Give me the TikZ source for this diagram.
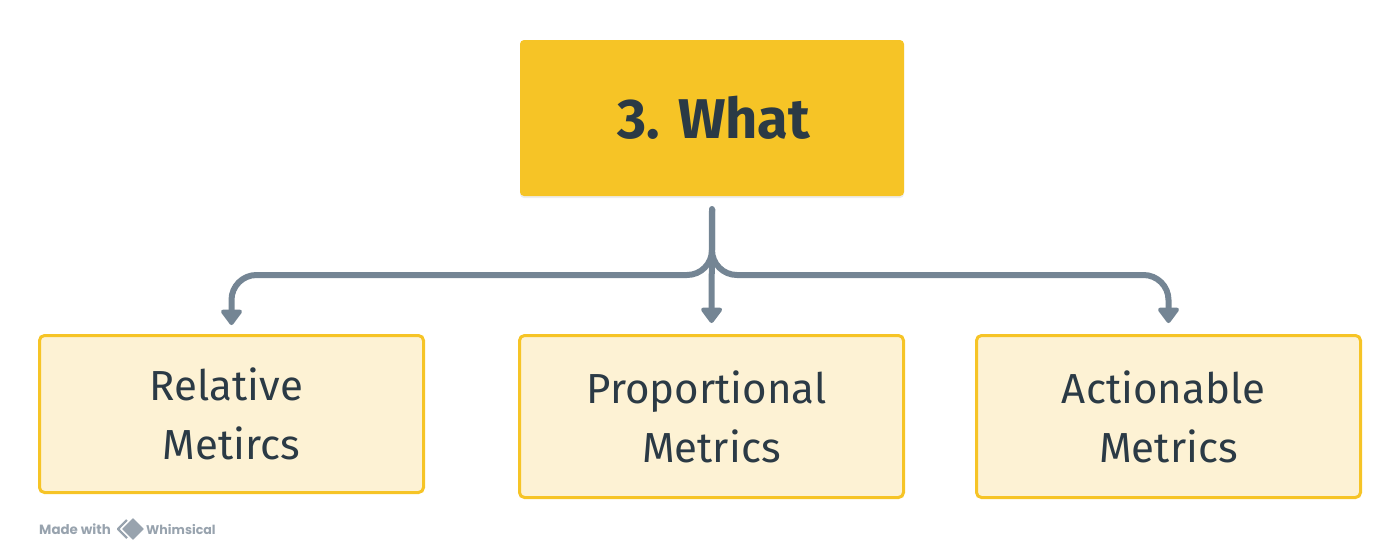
\documentclass[tikz,border=0pt]{standalone}
\usepackage{fontspec}
\setmainfont{Fira Sans}
\newfontfamily\logofont{Poppins}
\usetikzlibrary{arrows.meta,shadows}
\definecolor{whatyellow}{HTML}{F6C426}
\definecolor{palefill}{HTML}{FDF2D4}
\definecolor{inkblue}{HTML}{2B3A45}
\definecolor{linkgrey}{HTML}{748594}
\definecolor{logogrey}{HTML}{98A3AE}

\begin{document}
\begin{tikzpicture}[x=1pt,y=-1pt]
\tikzstyle{top}=[rectangle, rounded corners=4pt, minimum width=384pt, minimum height=156pt, fill=whatyellow, text=inkblue, font=\fontsize{56}{60}\selectfont\bfseries, drop shadow={shadow xshift=0pt, shadow yshift=-2pt, opacity=0.07, fill=black}]
\tikzstyle{metric}=[rectangle, rounded corners=5pt, minimum width=384pt, line width=3pt, draw=whatyellow, fill=palefill, text=inkblue, align=center, font=\fontsize{42}{59}\selectfont]
\tikzstyle{connect}=[-{Triangle[width=24pt,length=17pt,round]}, line width=6pt, draw=linkgrey, rounded corners=25pt]
\tikzstyle{credit}=[inner sep=0pt, text=logogrey, font=\fontsize{13.4}{16}\selectfont\logofont\bfseries]
\useasboundingbox (0,0) rectangle (1400,558);

	\node[top] (what) at (712,118) {\kern4pt 3. What};
	\node[metric, minimum height=157pt] (relative) at (231.5,414) {Relative\kern10pt\\Metircs};
	\node[metric, minimum height=162pt] (proportional) at (711.5,416.5) {Proportional\kern10pt\\Metrics};
	\node[metric, minimum height=162pt] (actionable) at (1168.5,416.5) {Actionable\kern10pt\\Metrics};

	\coordinate (trunk) at (712,209);
	\coordinate (bus) at (712,275);

	\draw[connect, shorten >=9pt] (trunk) -- (bus) -| (relative.north);
	\draw[connect, shorten >=11pt, line cap=round] (trunk) -- (proportional.north);
	\draw[connect, shorten >=11pt] (trunk) -- (bus) -| (actionable.north);

	\node[credit, anchor=west] (made) at (39,529) {Made with};
	\node[credit, anchor=west, font=\fontsize{12.6}{16}\selectfont\logofont\bfseries] (whimsical) at (146,529) {Whimsical};
	% logo
	\draw[logogrey, line width=2.2pt, line join=round] (127,520) -- (118,529) -- (127,538);
	\draw[fill=logogrey, draw=white, line width=1.2pt, rounded corners=1pt] (133,517) -- (145,529) -- (133,541) -- (121,529) -- cycle;
\end{tikzpicture}
\end{document}
